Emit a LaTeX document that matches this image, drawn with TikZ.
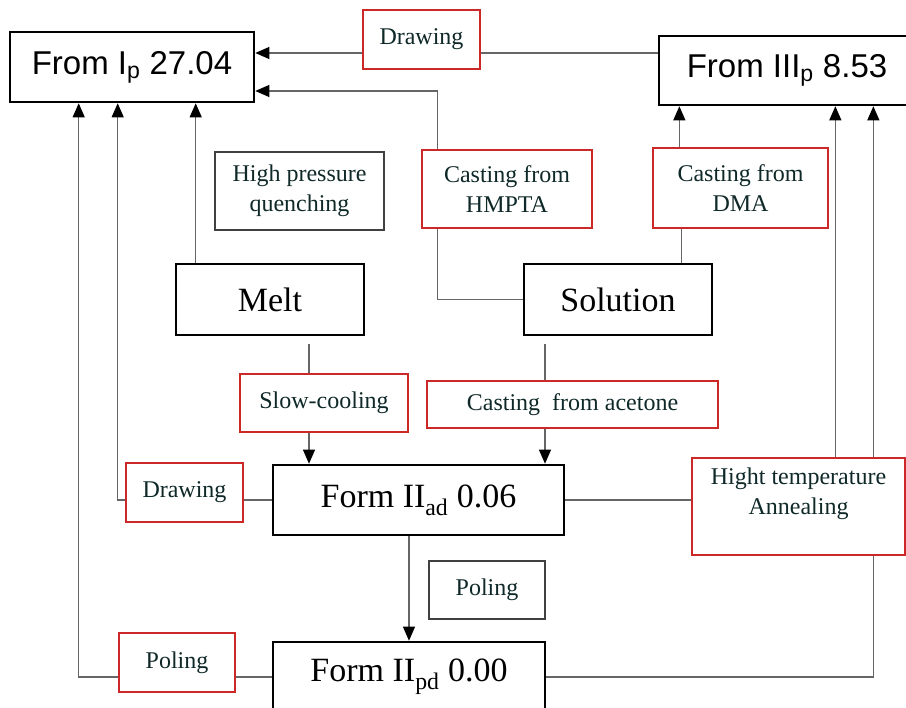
\documentclass[tikz,border=0pt]{standalone}
\usepackage{fontspec}
\setmainfont{Liberation Serif}
\newfontfamily\arialfont{Liberation Sans}
\usetikzlibrary{arrows.meta}

\definecolor{boxred}{RGB}{204,40,40}
\definecolor{labeltxt}{RGB}{15,40,40}
\newcommand\labelsize{\fontsize{24}{30}\selectfont}
\newcommand\bigsize{\fontsize{34}{40}\selectfont}

\tikzset{
  bigbox/.style={draw=black, line width=2.6pt, inner sep=0pt, font=\bigsize},
  redbox/.style={draw=boxred, line width=1.3pt, inner sep=0pt, align=center,
    text=labeltxt, font=\labelsize},
  blkbox/.style={draw=black!75, line width=1.3pt, inner sep=0pt, align=center,
    text=labeltxt, font=\labelsize},
  sz/.style 2 args={minimum width=#1pt, minimum height=#2pt},
  conn/.style={draw=black!60, line width=1.1pt},
  tri/.style={-{Triangle[length=14pt, width=12pt, color=black]}}
}

\begin{document}
\begin{tikzpicture}[x=1pt, y=-1pt]
  \clip (0, 0) rectangle (906, 708);

  \node[bigbox, sz={244}{70}, font=\arialfont\fontsize{33}{40}\selectfont] (fromI) at (132, 67)
    {From I\textsubscript{p} 27.04};
  \node[bigbox, sz={256}{69}, font=\arialfont\fontsize{33}{40}\selectfont] (fromIII) at (787, 70.5)
    {From III\textsubscript{p} 8.53};
  \node[redbox, sz={117}{59}] (drawA) at (421.5, 39.5) {Drawing};
  \node[redbox, sz={170}{78}] (hmpta) at (507, 189) {Casting from\\HMPTA};
  \node[redbox, sz={175}{80}] (dma) at (740.5, 188) {Casting from\\DMA};
  \node[blkbox, sz={169}{78}] (hpq) at (299.5, 191) {High pressure\\quenching};

  \node[bigbox, sz={188}{71}] (melt) at (270, 299.5) {Melt};
  \node[bigbox, sz={188}{71}] (solution) at (618, 299.5) {Solution};

  \node[redbox, sz={168}{58}] (slow) at (324, 403) {Slow-cooling};
  \node[redbox, sz={291}{47}] (acetone) at (572.5, 404.5) {Casting~ from acetone};

  \node[redbox, sz={117}{59}] (drawB) at (184.5, 492.5) {Drawing};
  \node[bigbox, sz={291}{70}] (formAD) at (418.5, 500) {Form II\textsubscript{ad} 0.06};
  \node[redbox, sz={213}{97}] (anneal) at (798.5, 506.5) {Hight temperature\\Annealing\\ };

  \node[blkbox, sz={116}{58}] (polB) at (487, 590) {Poling};
  \node[redbox, sz={116}{59}] (polA) at (177, 662.5) {Poling};
  \node[bigbox, sz={272}{70}] (formPD) at (409, 677) {Form II\textsubscript{pd} 0.00};

  % top row
  \draw[conn] ([yshift=-13.5pt]drawA.east) -- ([yshift=-13.5pt]drawA.east -| fromIII.west);
  \draw[conn, tri] ([yshift=-13.5pt]drawA.west) -- ([yshift=-13.5pt]drawA.west -| fromI.east);
  \draw[conn, tri] ([xshift=16pt]hmpta.north west) |- ([yshift=-24pt]fromI.east);
  \draw[conn] ([xshift=16pt]hmpta.south west) |- (solution.west);
  \draw[conn] ([xshift=-32pt]solution.north east) -- ([xshift=-32pt]solution.north east |- dma.south);
  \draw[conn, tri] ([xshift=27pt]dma.north west) -- ([xshift=27pt]dma.north west |- fromIII.south);
  \draw[conn, tri] ([xshift=21pt]melt.north west) -- ([xshift=21pt]melt.north west |- fromI.south);

  % down to form II
  \coordinate (meltOut) at ([xshift=39pt, yshift=-8pt]melt.south);
  \coordinate (solOut) at ([xshift=-73pt, yshift=-8pt]solution.south);
  \draw[conn] (meltOut) -- (meltOut |- slow.north);
  \draw[conn, tri] (meltOut |- slow.south) -- (meltOut |- formAD.north);
  \draw[conn] (solOut) -- (solOut |- acetone.north);
  \draw[conn, tri] (solOut |- acetone.south) -- (solOut |- formAD.north);
  \draw[conn, tri] (formAD.south -| formPD.north) -- (formPD.north);

  % left side
  \draw[conn] (formAD.west) -- (formAD.west -| drawB.east);
  \draw[conn, tri] (formAD.west -| drawB.west) -| ([xshift=109pt]fromI.south west);
  \draw[conn] (formPD.west) -- (formPD.west -| polA.east);
  \draw[conn, tri] (formPD.west -| polA.west) -| ([xshift=70pt]fromI.south west);

  % right side
  \draw[conn] (formAD.east) -- (formAD.east -| anneal.west);
  \foreach \dx in {144, 182}
    \draw[conn, tri] ([xshift=\dx pt]anneal.north west) -- ([xshift=\dx pt]anneal.north west |- fromIII.south);
  \draw[conn] ([xshift=182pt]anneal.south west) |- (formPD.east);
\end{tikzpicture}
\end{document}
